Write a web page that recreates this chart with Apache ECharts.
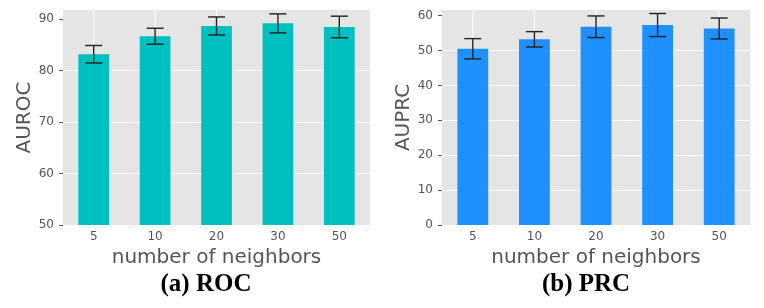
<!DOCTYPE html>
<html><head><meta charset="utf-8">
<script src="https://cdn.jsdelivr.net/npm/echarts@6/dist/echarts.min.js"></script>
<style>html,body{margin:0;padding:0;background:#fff}#c{width:764px;height:308px}</style>
</head><body><div id="c"></div>
<script>
const categories = ['5', '10', '20', '30', '50'];
const aurocMean = [83.2, 86.7, 88.7, 89.2, 88.5];
const aurocErr  = [1.7, 1.55, 1.75, 1.85, 2.1];
const auprcMean = [50.5, 53.2, 56.8, 57.3, 56.3];
const auprcErr  = [2.9, 2.2, 3.1, 3.3, 3.0];
const aurocTicks = [50, 60, 70, 80, 90];
const auprcTicks = [0, 10, 20, 30, 40, 50, 60];
const leftTitle = '(a) ROC';
const rightTitle = '(b) PRC';

const chart = echarts.init(document.getElementById('c'), null, {renderer: 'canvas'});

function errSeries(idx, mean, err) {
  return {
    type: 'custom', xAxisIndex: idx, yAxisIndex: idx, z: 10,
    data: mean.map((m, i) => [i, m - err[i], m + err[i]]),
    renderItem: function (params, api) {
      const lo = api.coord([api.value(0), api.value(1)]);
      const hi = api.coord([api.value(0), api.value(2)]);
      const w = 8.5;
      const st = {stroke: '#222', lineWidth: 1.4};
      return {type: 'group', children: [
        {type: 'line', shape: {x1: hi[0], y1: hi[1], x2: lo[0], y2: lo[1]}, style: st},
        {type: 'line', shape: {x1: hi[0] - w, y1: hi[1], x2: hi[0] + w, y2: hi[1]}, style: st},
        {type: 'line', shape: {x1: lo[0] - w, y1: lo[1], x2: lo[0] + w, y2: lo[1]}, style: st}
      ]};
    }
  };
}

// vertical white grid lines at category centres, drawn behind the bars
function vGrid(idx, base) {
  return {
    type: 'custom', xAxisIndex: idx, yAxisIndex: idx, z: 1, silent: true,
    data: categories.map((c, i) => [i, base]),
    renderItem: function (params, api) {
      const p = api.coord([api.value(0), api.value(1)]);
      const cs = params.coordSys;
      return {type: 'line', shape: {x1: p[0], y1: cs.y, x2: p[0], y2: cs.y + cs.height},
        style: {stroke: '#fff', lineWidth: 1}};
    }
  };
}

function xAx(idx) {
  return {
    type: 'category', gridIndex: idx, data: categories,
    axisLine: {show: false}, axisTick: {show: false},
    axisLabel: {color: '#555', fontSize: 12, margin: 6, fontFamily: 'DejaVu Sans'},
    splitLine: {show: false},
    name: 'number of neighbors', nameLocation: 'middle', nameGap: 21,
    nameTextStyle: {color: '#555', fontSize: 20, fontFamily: 'DejaVu Sans', verticalAlign: 'top'}
  };
}
function yAx(idx, min, max, ticks, name) {
  return {
    type: 'value', gridIndex: idx, min: min, max: max, interval: 10,
    axisLine: {show: false},
    axisTick: {show: true, length: 4, customValues: ticks, lineStyle: {color: '#555'}},
    axisLabel: {color: '#555', fontSize: 12, margin: 9, fontFamily: 'DejaVu Sans', customValues: ticks},
    splitLine: {show: true, showMaxLine: false, showMinLine: false, lineStyle: {color: '#fff', width: 1}},
    name: name, nameLocation: 'middle', nameGap: 27, nameRotate: 90,
    nameTextStyle: {color: '#555', fontSize: 20, fontFamily: 'DejaVu Sans'}
  };
}

const capStyle = {fontFamily: 'Liberation Serif', fontWeight: 'bold', fontSize: 25, color: '#000'};
chart.setOption({
  animation: false,
  title: [
    {text: leftTitle, left: 206, top: 272, padding: 0, textAlign: 'center', textStyle: capStyle},
    {text: rightTitle, left: 586, top: 272, padding: 0, textAlign: 'center', textStyle: capStyle}
  ],
  grid: [
    {left: 63, right: 394, top: 10, bottom: 83, show: true, backgroundColor: '#E5E5E5', borderWidth: 0},
    {left: 442, right: 14, top: 10, bottom: 83, show: true, backgroundColor: '#E5E5E5', borderWidth: 0}
  ],
  xAxis: [xAx(0), xAx(1)],
  yAxis: [yAx(0, 50, 91.8, aurocTicks, 'AUROC'), yAx(1, 0, 61.6, auprcTicks, 'AUPRC')],
  series: [
    vGrid(0, 50), vGrid(1, 0),
    {type: 'bar', xAxisIndex: 0, yAxisIndex: 0, z: 2, data: aurocMean, barWidth: '50%', itemStyle: {color: '#00BFBF'}},
    {type: 'bar', xAxisIndex: 1, yAxisIndex: 1, z: 2, data: auprcMean, barWidth: '50%', itemStyle: {color: '#1E90FF'}},
    errSeries(0, aurocMean, aurocErr),
    errSeries(1, auprcMean, auprcErr)
  ]
});
</script></body></html>
